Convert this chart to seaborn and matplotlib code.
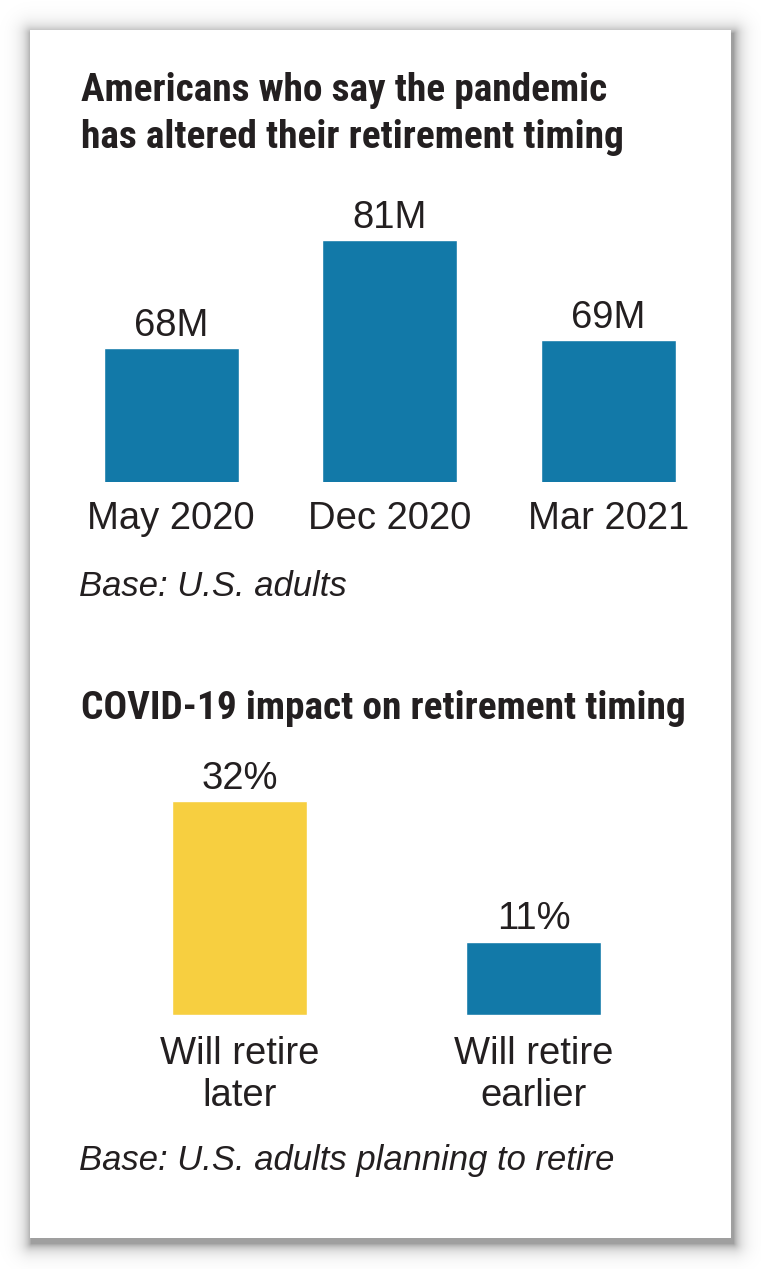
import matplotlib
matplotlib.use("Agg")
import matplotlib.pyplot as plt
import numpy as np
import seaborn as sns
import pandas as pd
from matplotlib.patches import Rectangle

# ---- data ----
periods = ["May 2020", "Dec 2020", "Mar 2021"]
americans_m = [68, 81, 69]
value_labels_top = ["68M", "81M", "69M"]

impact_cats = ["Will retire\nlater", "Will retire\nearlier"]
impact_pct = [32, 11]
value_labels_bottom = ["32%", "11%"]

title_top = ["Americans who say the pandemic", "has altered their retirement timing"]
title_bottom = "COVID-19 impact on retirement timing"
base_top = "Base: U.S. adults"
base_bottom = "Base: U.S. adults planning to retire"

BLUE = "#1279a8"
YELLOW = "#f7cf40"
TXT = "#231f20"

sns.set_theme(style="white")
plt.rcParams["font.family"] = ["Liberation Sans", "DejaVu Sans"]
COND = ["Roboto Condensed", "IBM Plex Sans Condensed", "Fira Sans Condensed", "DejaVu Sans"]

W, H = 761, 1269
fig = plt.figure(figsize=(W / 100, H / 100), dpi=100)
fig.patch.set_facecolor("white")

def px(x, y):
    return x / W, 1 - y / H

# ---- card drop shadow (soft) ----
cx0, cy0, cx1, cy1 = 30, 30, 731, 1238
sx0, sy0, sx1, sy1 = cx0 + 1, cy0 + 3, cx1 + 2, cy1 + 5
yy, xx = np.mgrid[0:H, 0:W]
dx = np.maximum(np.maximum(sx0 - xx, xx - sx1), 0)
dy = np.maximum(np.maximum(sy0 - yy, yy - sy1), 0)
d = np.hypot(dx, dy)
alpha = 0.38 * np.exp(-d / 7.0)
rgba = np.zeros((H, W, 4))
rgba[..., 3] = alpha
fig.figimage(rgba, 0, 0, origin="upper", zorder=0)

x0, y0 = px(cx0, cy1)
x1, y1 = px(cx1, cy0)
fig.add_artist(Rectangle((x0, y0), x1 - x0, y1 - y0, transform=fig.transFigure,
                         facecolor="white", edgecolor="none", zorder=1))

# ---- top chart ----
df1 = pd.DataFrame({"period": periods, "value": americans_m})
ax1 = fig.add_axes([62 / W, 1 - 482 / H, 655.5 / W, 282.5 / H])
ax1.set_zorder(2)
sns.barplot(data=df1, x="period", y="value", color=BLUE, saturation=1, width=0.62, ax=ax1)
ax1.set_ylim(51.9, 51.9 + 282.5 / 8.31)
ax1.set_xlim(-0.5, 2.5)
ax1.bar_label(ax1.containers[0], labels=value_labels_top, padding=3, fontsize=27.5, color=TXT)

# ---- bottom chart ----
df2 = pd.DataFrame({"cat": impact_cats, "value": impact_pct})
ax2 = fig.add_axes([92.5 / W, 1 - 1015 / H, 588 / W, 267.2 / H])
ax2.set_zorder(2)
sns.barplot(data=df2, x="cat", y="value", hue="cat", palette=[YELLOW, BLUE], saturation=1,
            width=0.46, legend=False, ax=ax2)
ax2.set_ylim(0, 40)
ax2.set_xlim(-0.5, 1.5)
for c, lab in zip(ax2.containers, value_labels_bottom):
    ax2.bar_label(c, labels=[lab], padding=3, fontsize=27.5, color=TXT)

for ax in (ax1, ax2):
    ax.patch.set_alpha(0)
    for s in ax.spines.values():
        s.set_visible(False)
    ax.set_xlabel("")
    ax.set_ylabel("")
    ax.set_yticks([])
    ax.tick_params(axis="x", length=0, pad=14, labelsize=27.5, labelcolor=TXT)
ax2.tick_params(axis="x", pad=15)
for t in ax2.get_xticklabels():
    t.set_linespacing(1.22)

# ---- titles / notes ----
tx = 81 / W
for txt, yb in ((title_top[0], 101), (title_top[1], 148), (title_bottom, 719)):
    fig.text(tx, 1 - yb / H, txt, fontsize=28.4, fontweight="bold", family=COND,
             color=TXT, va="baseline", zorder=3)
fig.text(79 / W, 1 - 596 / H, base_top, fontsize=24.9, style="italic", color=TXT,
         va="baseline", zorder=3)
fig.text(79 / W, 1 - 1170 / H, base_bottom, fontsize=24.9, style="italic", color=TXT,
         va="baseline", zorder=3)

fig.savefig("out.png", dpi=100)
